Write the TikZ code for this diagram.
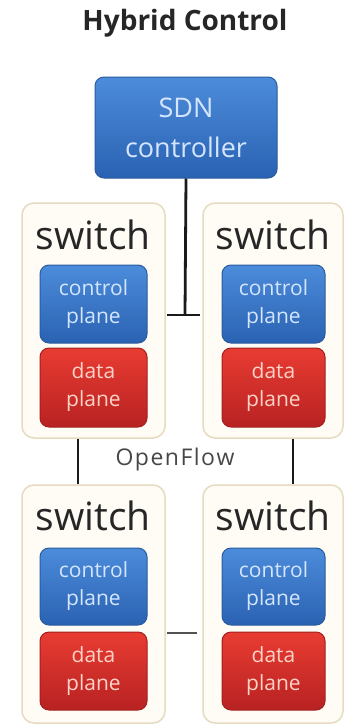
\documentclass[tikz,border=0pt]{standalone}
\usepackage{fontspec}
\setmainfont{Open Sans}
\begin{document}
\begin{tikzpicture}[x=1pt,y=-1pt,
  swbox/.style={draw=swborder,line width=1.5pt,fill=swfill,rounded corners=12pt,inner sep=0pt},
  bluebox/.style={draw=blueedge,line width=1pt,top color=bluetop,bottom color=bluebot,rounded corners=9pt,align=center,text=bluetext,inner sep=0pt},
  redbox/.style={draw=rededge,line width=1pt,top color=redtop,bottom color=redbot,rounded corners=9pt,align=center,text=redtext,inner sep=0pt},
  swlabel/.style={text=swtext,font=\fontsize{39}{39}\selectfont,inner sep=0pt},
  planetext/.style={font=\fontsize{21}{28}\selectfont},
  link/.style={line width=2.8pt,draw=linkcol}
]
\definecolor{swborder}{HTML}{E6DAC0}
\definecolor{swfill}{HTML}{FFFCF5}
\definecolor{blueedge}{HTML}{2A5C9E}
\definecolor{bluetop}{HTML}{4C8CDA}
\definecolor{bluebot}{HTML}{2A62B2}
\definecolor{bluetext}{HTML}{D4E6FF}
\definecolor{rededge}{HTML}{A22020}
\definecolor{redtop}{HTML}{E83C32}
\definecolor{redbot}{HTML}{B82222}
\definecolor{redtext}{HTML}{FFD2C8}
\definecolor{swtext}{HTML}{262626}
\definecolor{linkcol}{HTML}{1A1A1A}
\useasboundingbox (0,0) rectangle (344,728);
\fill[white] (0,0) rectangle (344,728);

\node[font=\bfseries\fontsize{28}{28}\selectfont,text=swtext] (title) at (185,23) {Hybrid Control};

\node[bluebox,minimum width=182pt,minimum height=101pt,font=\fontsize{27}{40}\selectfont] (sdn) at (186,127.5) {SDN\\controller};

% switch containers
\node[swbox,minimum width=143pt,minimum height=235pt] (tl) at (93.5,320.5) {};
\node[swbox,minimum width=140pt,minimum height=235pt] (tr) at (273,320.5) {};
\node[swbox,minimum width=143pt,minimum height=238pt] (bl) at (93.5,604) {};
\node[swbox,minimum width=140pt,minimum height=238pt] (br) at (273,604) {};

\node[swlabel] (tlsw) at (93,235) {switch};
\node[swlabel] (trsw) at (273,235) {switch};
\node[swlabel] (blsw) at (93,516) {switch};
\node[swlabel] (brsw) at (273,516) {switch};

\node[bluebox,planetext,minimum width=107pt,minimum height=78pt] (tlc) at (93.5,304) {control\\plane};
\node[redbox,planetext,minimum width=107pt,minimum height=79pt] (tld) at (93.5,387.5) {data\\plane};
\node[bluebox,planetext,minimum width=103pt,minimum height=78pt] (trc) at (273.5,304) {control\\plane};
\node[redbox,planetext,minimum width=103pt,minimum height=79pt] (trd) at (273.5,387.5) {data\\plane};
\node[bluebox,planetext,minimum width=107pt,minimum height=77pt] (blc) at (93.5,586.5) {control\\plane};
\node[redbox,planetext,minimum width=107pt,minimum height=78pt] (bld) at (93.5,671) {data\\plane};
\node[bluebox,planetext,minimum width=103pt,minimum height=77pt] (brc) at (273.5,586.5) {control\\plane};
\node[redbox,planetext,minimum width=103pt,minimum height=78pt] (brd) at (273.5,671) {data\\plane};

\node[text=swtext!85,font=\fontsize{23}{23}\selectfont] (of) at (175,460) {O\kern1.5pt p\kern1.5pt e\kern1.5pt n\kern1.5pt F\kern1.5pt l\kern1.5pt o\kern1.5pt w};

% connectors
\coordinate (tj) at (185,315);
\coordinate (tja) at (167,315);
\coordinate (tjb) at (200,315);
\draw[link] (sdn.south) -- (tj);
\draw[link] (tja) -- (tjb);

\coordinate (lx) at (78,0);
\coordinate (rx) at (293,0);
\draw[link] (tl.south -| lx) -- (bl.north -| lx);
\draw[link] (tr.south -| rx) -- (br.north -| rx);

\coordinate (bma) at (167,633);
\coordinate (bmb) at (197,633);
\draw[link,draw=linkcol!75] (bma) -- (bmb);
\end{tikzpicture}
\end{document}
